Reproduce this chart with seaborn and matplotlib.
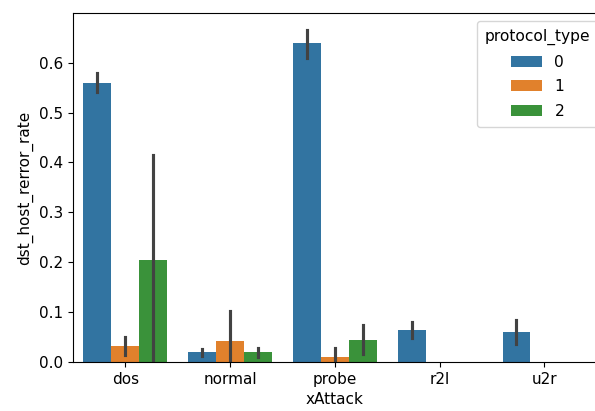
import matplotlib
matplotlib.use("Agg")
import matplotlib.pyplot as plt
import seaborn as sns
import pandas as pd

attacks = ["dos", "normal", "probe", "r2l", "u2r"]
protocols = ["0", "1", "2"]

# (attack, protocol, mean, ci_low, ci_high)
group_attack = ["dos", "dos", "dos", "normal", "normal", "normal", "probe", "probe", "probe", "r2l", "u2r"]
group_proto = ["0", "1", "2", "0", "1", "2", "0", "1", "2", "0", "0"]
means = [0.560, 0.033, 0.205, 0.020, 0.042, 0.020, 0.640, 0.011, 0.045, 0.065, 0.061]
lows = [0.541, 0.015, 0.000, 0.013, 0.000, 0.010, 0.610, 0.000, 0.017, 0.049, 0.037]
highs = [0.579, 0.051, 0.416, 0.026, 0.102, 0.029, 0.666, 0.029, 0.075, 0.081, 0.084]

rows = []
for a, p, m, lo, hi in zip(group_attack, group_proto, means, lows, highs):
    for v in (lo, m, hi):
        rows.append({"xAttack": a, "protocol_type": p, "dst_host_rerror_rate": v})
df = pd.DataFrame(rows)

plt.rcParams["font.size"] = 11
fig, ax = plt.subplots(figsize=(5.95, 4.11), dpi=100)
fig.subplots_adjust(left=0.1227, right=1.003, bottom=0.119, top=0.968)
sns.barplot(data=df, x="xAttack", y="dst_host_rerror_rate", hue="protocol_type",
            order=attacks, hue_order=protocols, estimator="median",
            errorbar=("pi", 100), ax=ax)
ax.legend(title="protocol_type", loc="upper left", fontsize=11.2, title_fontsize=11.2,
          bbox_to_anchor=(477 / 595, 1 - 21 / 411), bbox_transform=fig.transFigure,
          borderaxespad=0, borderpad=0.5, labelspacing=0.62)
fig.savefig("out.png", dpi=100)
